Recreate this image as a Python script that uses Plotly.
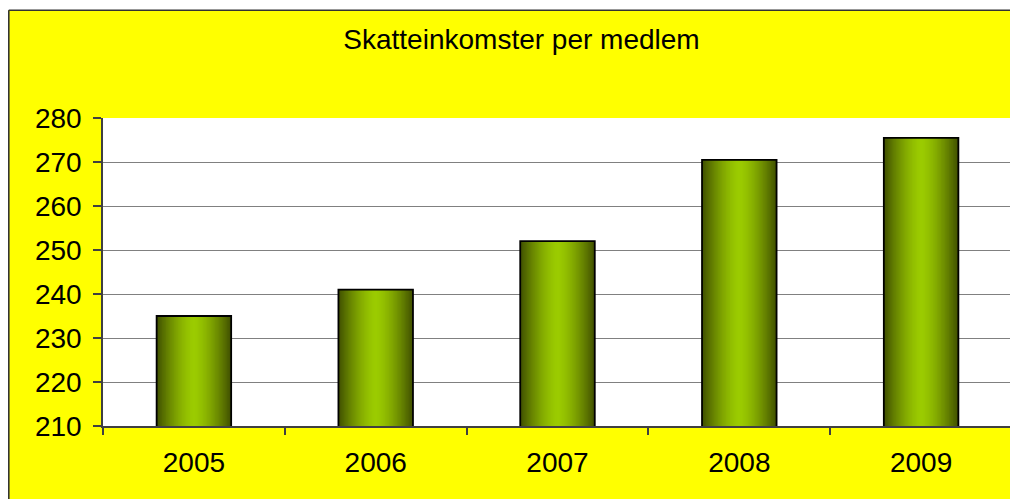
import plotly.graph_objects as go

# ---- data ----
years = ["2005", "2006", "2007", "2008", "2009"]
values = [235, 241, 252, 270.5, 275.5]
y_ticks = [210, 220, 230, 240, 250, 260, 270, 280]
title_text = "Skatteinkomster per medlem"

# ---- style ----
# the page body has an 8px margin, so the figure starts at (8, 8) on screen
W, H = 1010, 491
ML, MR, MT, MB = 95, 6, 110, 73
bar_width = 0.41
edge_rgb = (0x42, 0x52, 0x00)
center_rgb = (0x9C, 0xCC, 0x00)
n_layers = 28


def mix(a, b, t):
    return "rgb(%d,%d,%d)" % tuple(round(a[i] + (b[i] - a[i]) * t) for i in range(3))


fig = go.Figure()
# gradient: overlay progressively narrower and brighter bars
for k in range(n_layers):
    frac = 1 - k / n_layers
    t = frac ** 1.5  # 1 at the edge, 0 at the center
    fig.add_trace(go.Bar(
        x=years, y=values, width=bar_width * frac,
        marker=dict(color=mix(center_rgb, edge_rgb, t), line=dict(width=0)),
        hoverinfo="skip", showlegend=False,
    ))
# outline
fig.add_trace(go.Bar(
    x=years, y=values, width=bar_width,
    marker=dict(color="rgba(0,0,0,0)", line=dict(color="black", width=1.8)),
    showlegend=False,
))

pw = W - ML - MR
ph = H - MT - MB


def px_x(p):
    return (p - ML) / pw


def px_y(p):
    return (H - MB - p) / ph


shapes = [
    # white strip above the chart frame
    dict(type="rect", xref="paper", yref="paper", x0=px_x(-5), x1=px_x(W + 5),
         y0=px_y(2), y1=px_y(-5), fillcolor="white", line=dict(width=0), layer="below"),
    # frame lines
    dict(type="line", xref="paper", yref="paper", x0=px_x(0.8), x1=px_x(W + 5),
         y0=px_y(2.3), y1=px_y(2.3), line=dict(color="#333333", width=1.6)),
    dict(type="line", xref="paper", yref="paper", x0=px_x(0.8), x1=px_x(0.8),
         y0=px_y(2.3), y1=px_y(H + 5), line=dict(color="#333333", width=1.6)),
    # plot area right border
    dict(type="line", xref="paper", yref="paper", x0=1, x1=1, y0=0, y1=1,
         line=dict(color="#8c8c8c", width=2)),
]

fig.update_layout(
    width=W, height=H,
    margin=dict(l=ML, r=MR, t=MT, b=MB),
    paper_bgcolor="#FFFF00",
    plot_bgcolor="white",
    barmode="overlay",
    showlegend=False,
    font=dict(family="Liberation Sans, Arial, sans-serif", color="black"),
    title=dict(text=title_text, x=513.5 / W, xanchor="center",
               y=1 - 31.5 / H, yanchor="middle", font=dict(size=28, color="black")),
    shapes=shapes,
)

fig.update_xaxes(
    type="category", tickson="boundaries", ticks="outside", ticklen=7,
    tickcolor="#404040", tickwidth=1.5,
    showline=True, linecolor="#404040", linewidth=1.5,
    showgrid=False, tickfont=dict(size=28), ticklabelstandoff=11,
)
fig.update_yaxes(
    range=[210, 280], tickvals=y_ticks, ticks="outside", ticklen=8,
    tickcolor="#404040", tickwidth=1.5,
    showline=True, linecolor="#404040", linewidth=1.5,
    showgrid=True, gridcolor="#808080", gridwidth=1,
    tickfont=dict(size=28), ticklabelstandoff=6, zeroline=False,
)

fig.write_html("out.html")
